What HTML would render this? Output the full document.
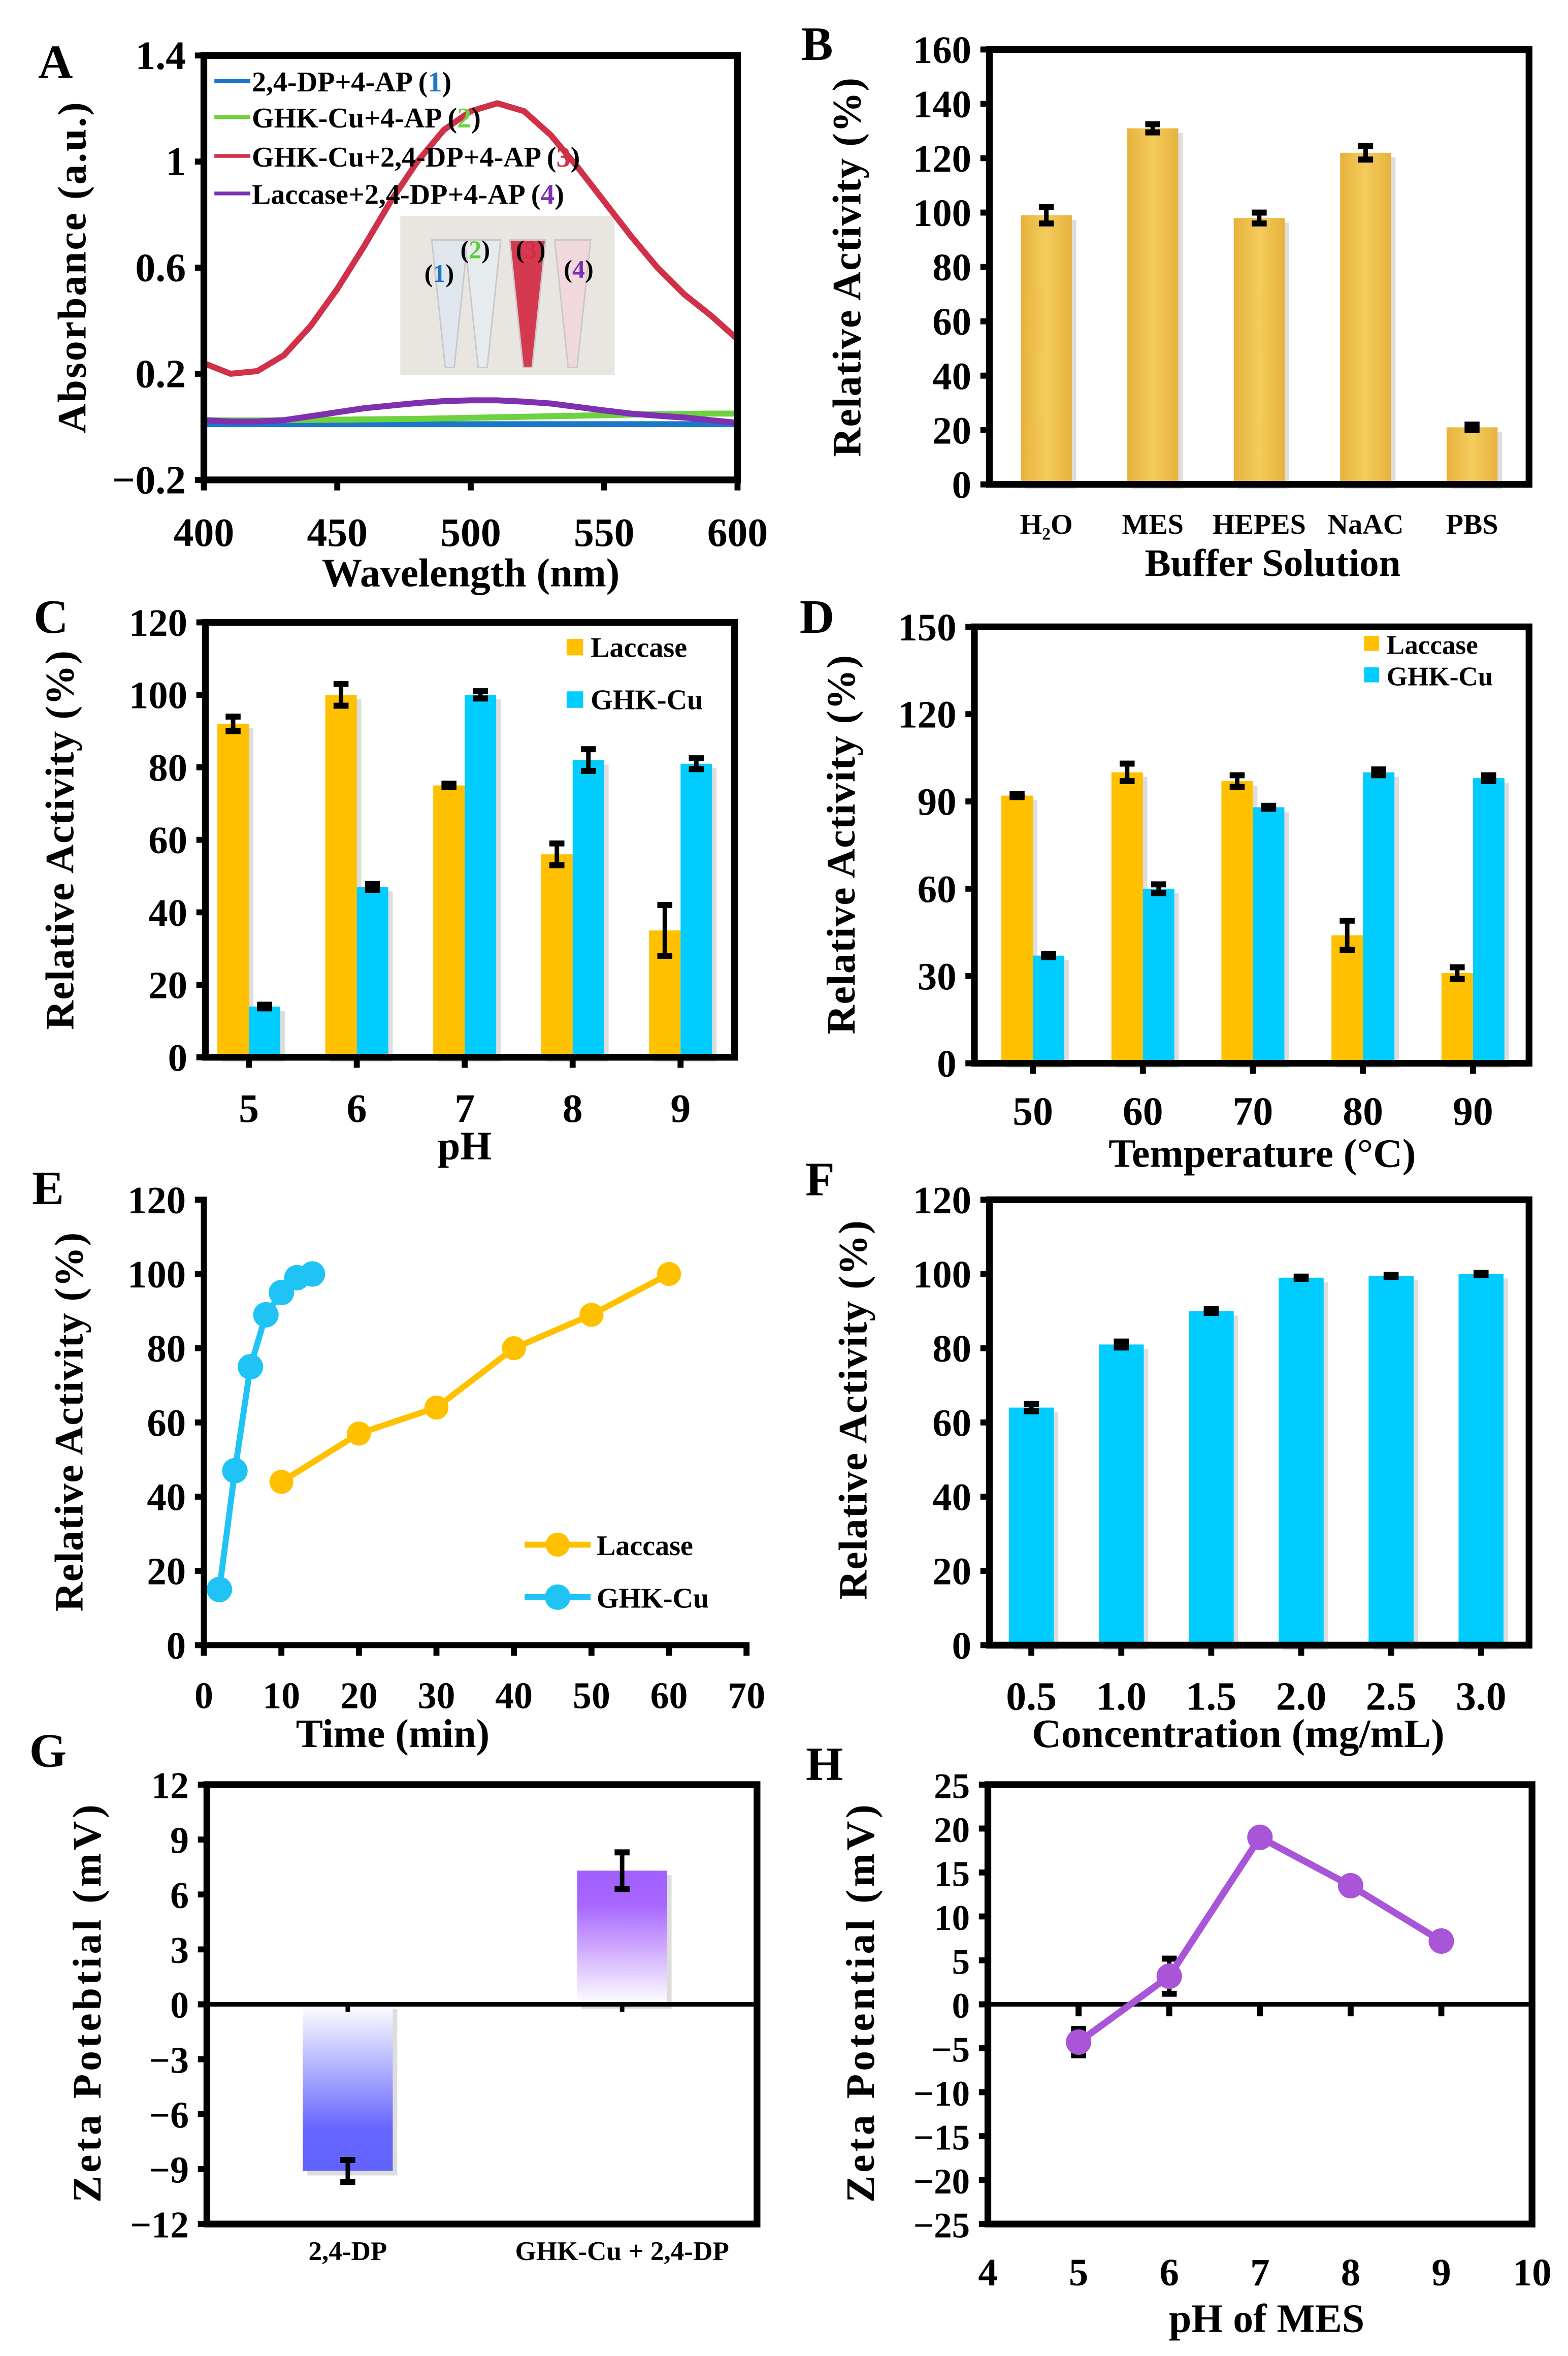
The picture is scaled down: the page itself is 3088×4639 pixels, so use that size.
<!DOCTYPE html>
<html><head><meta charset="utf-8"><style>
html,body{margin:0;padding:0;background:#fff;}
svg{display:block;}
text{font-family:"Liberation Serif",serif;font-weight:bold;fill:#000;}
</style></head><body>
<svg id="fig" xmlns="http://www.w3.org/2000/svg" width="3088" height="4639" viewBox="0 0 1046 1571" preserveAspectRatio="none">
<defs>
<linearGradient id="gold" x1="0" x2="1" y1="0" y2="0"><stop offset="0" stop-color="#E6B23C"/><stop offset="0.5" stop-color="#F4CB5C"/><stop offset="1" stop-color="#E6B23C"/></linearGradient>
<linearGradient id="blueg" x1="0" x2="0" y1="0" y2="1"><stop offset="0" stop-color="#FFFFFF"/><stop offset="0.75" stop-color="#6666FF"/><stop offset="1" stop-color="#6262FF"/></linearGradient>
<linearGradient id="purpg" x1="0" x2="0" y1="1" y2="0"><stop offset="0" stop-color="#FFFFFF"/><stop offset="0.75" stop-color="#A866FF"/><stop offset="1" stop-color="#A060FF"/></linearGradient>
</defs>
</svg>
<script>
// ---------- DATA ----------
const aWave = [400,410,420,430,440,450,460,470,480,490,500,510,520,530,540,550,560,570,580,590,600];
const aRed = [0.24,0.20,0.21,0.27,0.38,0.52,0.68,0.85,1.00,1.12,1.19,1.22,1.19,1.10,0.98,0.85,0.72,0.60,0.50,0.42,0.33];
const aPurple = [0.025,0.02,0.02,0.025,0.04,0.055,0.07,0.08,0.09,0.097,0.10,0.10,0.095,0.088,0.075,0.062,0.05,0.042,0.035,0.025,0.015];
const aGreen = [0.025,0.024,0.024,0.025,0.026,0.027,0.028,0.029,0.030,0.032,0.034,0.036,0.038,0.040,0.042,0.044,0.046,0.048,0.049,0.050,0.050];
const aBlue = [0.01,0.01,0.01,0.01,0.01,0.01,0.01,0.01,0.01,0.01,0.01,0.01,0.01,0.01,0.01,0.01,0.01,0.01,0.01,0.01,0.01];
const aYTicks = [1.4,1,0.6,0.2,-0.2];
const aYLabels = ["1.4","1","0.6","0.2","\u22120.2"];
const aXTicks = [400,450,500,550,600];

const bCats = ["H\u2082O","MES","HEPES","NaAC","PBS"];
const bVals = [99,131,98,122,21];
const bErr = [3,1.5,2,2.5,1];
const bYTicks = [0,20,40,60,80,100,120,140,160];

const cCats = ["5","6","7","8","9"];
const cLac = [92,100,75,56,35];
const cLacErr = [2,3,0.5,3,7];
const cGhk = [14,47,100,82,81];
const cGhkErr = [0.5,0.8,1,3,1.5];
const cYTicks = [0,20,40,60,80,100,120];

const dCats = ["50","60","70","80","90"];
const dLac = [92,100,97,44,31];
const dLacErr = [0.5,3,2,5,2];
const dGhk = [37,60,88,100,98];
const dGhkErr = [0.5,1.5,0.5,1,1];
const dYTicks = [0,30,60,90,120,150];

const eLacT = [10,20,30,40,50,60];
const eLacV = [44,57,64,80,89,100];
const eGhkT = [2,4,6,8,10,12,14];
const eGhkV = [15,47,75,89,95,99,100];
const eXTicks = [0,10,20,30,40,50,60,70];
const eYTicks = [0,20,40,60,80,100,120];

const fCats = ["0.5","1.0","1.5","2.0","2.5","3.0"];
const fVals = [64,81,90,99,99.5,100];
const fErr = [1,0.8,0.5,0.3,0.3,0.3];

const gCats = ["2,4-DP","GHK-Cu + 2,4-DP"];
const gVals = [-9.1,7.3];
const gErr = [0.6,1.0];
const gYTicks = [12,9,6,3,0,-3,-6,-9,-12];
const gYLabels = ["12","9","6","3","0","\u22123","\u22126","\u22129","\u221212"];

const hPH = [5,6,7,8,9];
const hVals = [-4.3,3.2,19,13.5,7.2];
const hErr = [1.5,2,0.3,0.3,0.3];
const hXTicks = [4,5,6,7,8,9,10];
const hYTicks = [25,20,15,10,5,0,-5,-10,-15,-20,-25];
const hYLabels = ["25","20","15","10","5","0","\u22125","\u221210","\u221215","\u221220","\u221225"];

// ---------- HELPERS ----------
const NS="http://www.w3.org/2000/svg";
const svg=document.getElementById('fig');
function mk(tag,attrs,name,parent){
  const e=document.createElementNS(NS,tag);
  for(const k in attrs) e.setAttribute(k,attrs[k]);
  
  
  (parent||svg).appendChild(e);
  return e;
}
function txt(x,y,s,size,anchor,name,extra){
  const a={x:x,y:y,'font-size':size,'text-anchor':anchor||'middle'};
  if(extra) for(const k in extra) a[k]=extra[k];
  const t=mk('text',a,name);
  t.textContent=s;
  return t;
}
function vtxt(x,y,s,size,name,ls){
  return txt(x,y,s,size,'middle',name,{transform:`rotate(-90 ${x} ${y})`,'letter-spacing':ls||0});
}
function box(x0,y0,x1,y1,name){
  mk('rect',{x:x0,y:y0,width:x1-x0,height:y1-y0,fill:'none',stroke:'#000','stroke-width':4.5},name);
}
function line(x1,y1,x2,y2,w,c,name){
  return mk('line',{x1:x1,y1:y1,x2:x2,y2:y2,stroke:c||'#000','stroke-width':w},name);
}
function yTicks(ticks,labels,ys,xAxis,name,size){
  ticks.forEach((v,i)=>{
    const y=ys(v);
    line(xAxis-6,y,xAxis,y,4,'#000',name+'-tick');
    txt(xAxis-12,y+9,labels?labels[i]:String(v),size||26,'end',name+'-label');
  });
}
function errbar(x,y1,y2,name){
  line(x,y1,x,y2,3,'#000',name);
  line(x-5,y1,x+5,y1,4,'#000',name+'-cap');
  line(x-5,y2,x+5,y2,4,'#000',name+'-cap');
}
function bar(x,w,y0,y,fill,name){
  mk('rect',{x:x+3,y:Math.min(y,y0)+3,width:w,height:Math.abs(y0-y),fill:'#bbb',opacity:0.5},name+'-shadow');
  return mk('rect',{x:x,y:Math.min(y,y0),width:w,height:Math.abs(y0-y),fill:fill},name);
}
function poly(xs,ys,color,w,name){
  const p=xs.map((x,i)=>x.toFixed(2)+','+ys[i].toFixed(2)).join(' ');
  return mk('polyline',{points:p,fill:'none',stroke:color,'stroke-width':w,'stroke-linejoin':'round','stroke-linecap':'round'},name);
}

// ---------- PANEL A ----------
(function(){
  const X0=136,X1=492,Y0=37,Y1=320;
  const xs=v=>X0+(v-400)/200*(X1-X0);
  const ys=v=>Y0+(1.4-v)/1.6*(Y1-Y0);
  txt(37,52,'A',32,'middle','panel-a-letter');
  // inset photo
  mk('rect',{x:267,y:144,width:143,height:106,fill:'#e9e6e2'},'inset-photo');
  const tubes=[[300,'#dfe6ee'],[322,'#e6ebee'],[352,'#d5394f'],[382,'#f0d8dc']];
  tubes.forEach((t,i)=>{
    mk('path',{d:`M${t[0]-12},160 L${t[0]+12},160 L${t[0]+3},245 L${t[0]-3},245 Z`,fill:t[1],stroke:'#c9c9cc','stroke-width':1},'inset-tube');
  });
  const tl=[[293,188,'(1)','#1a74c4'],[317,172,'(2)','#5ccd3a'],[354,172,'(3)','#d52a43'],[386,185,'(4)','#7b2fae']];
  tl.forEach(t=>{
    const e=txt(t[0],t[1],'',17,'middle','inset-tube-label',{'font-weight':'normal'});
    e.innerHTML=`(<tspan fill="${t[3]}">${t[2][1]}</tspan>)`;
  });
  poly(aWave.map(xs),aBlue.map(ys),'#1b78c8',4,'series-1-line');
  poly(aWave.map(xs),aGreen.map(ys),'#6dd23f',4,'series-2-line');
  poly(aWave.map(xs),aPurple.map(ys),'#7f30b0',4,'series-4-line');
  poly(aWave.map(xs),aRed.map(ys),'#d03048',4,'series-3-line');
  box(X0,Y0,X1,Y1,'panel-a-frame');
  yTicks(aYTicks,aYLabels,ys,X0,'panel-a-y-tick',27);
  aXTicks.forEach(v=>{line(xs(v),Y1,xs(v),Y1+7,4,'#000','panel-a-x-tick');txt(xs(v),364,String(v),27,'middle','panel-a-x-label');});
  txt(314,391,'Wavelength (nm)',27,'middle','panel-a-x-title');
  vtxt(57,178,'Absorbance (a.u.)',27,'panel-a-y-title',1);
  const leg=[['2,4-DP+4-AP','1','#1b78c8',54],['GHK-Cu+4-AP','2','#6dd23f',78],['GHK-Cu+2,4-DP+4-AP','3','#d03048',104],['Laccase+2,4-DP+4-AP','4','#7f30b0',129]];
  leg.forEach(l=>{
    line(143,l[3],167,l[3],2.5,l[2],'legend-swatch');
    const e=txt(168,l[3]+7,'',19,'start','legend-entry');
    e.innerHTML=`${l[0]} (<tspan fill="${l[2]}">${l[1]}</tspan>)`;
  });
})();

// ---------- PANEL B ----------
(function(){
  const X0=660,X1=1020,Y0=33,Y1=323;
  const ys=v=>Y1-v/160*(Y1-Y0);
  const xs=i=>698+i*71;
  txt(545,40,'B',32,'middle','panel-b-letter');
  bCats.forEach((c,i)=>{
    bar(xs(i)-17,34,Y1,ys(bVals[i]),'url(#gold)','bar-'+c);
    errbar(xs(i),ys(bVals[i]+bErr[i]),ys(bVals[i]-bErr[i]),'error-bar');
    txt(xs(i),356,c,19,'middle','panel-b-x-label');
  });
  box(X0,Y0,X1,Y1,'panel-b-frame');
  yTicks(bYTicks,null,ys,X0,'panel-b-y-tick',26);
  txt(849,384,'Buffer Solution',26,'middle','panel-b-x-title');
  vtxt(574,178,'Relative Activity (%)',27,'panel-b-y-title',0.5);
})();

// ---------- PANEL C ----------
(function(){
  const X0=137,X1=490,Y0=415,Y1=705;
  const ys=v=>Y1-v/120*(Y1-Y0);
  const xs=i=>166+i*72;
  txt(34,422,'C',32,'middle','panel-c-letter');
  cCats.forEach((c,i)=>{
    bar(xs(i)-21,21,Y1,ys(cLac[i]),'#FFC000','bar-laccase-ph'+c);
    bar(xs(i),21,Y1,ys(cGhk[i]),'#00CCFF','bar-ghk-ph'+c);
    errbar(xs(i)-10.5,ys(cLac[i]+cLacErr[i]),ys(cLac[i]-cLacErr[i]),'error-bar');
    errbar(xs(i)+10.5,ys(cGhk[i]+cGhkErr[i]),ys(cGhk[i]-cGhkErr[i]),'error-bar');
    line(xs(i),Y1,xs(i),Y1+7,4,'#000','panel-c-x-tick');
    txt(xs(i),748,c,27,'middle','panel-c-x-label');
  });
  box(X0,Y0,X1,Y1,'panel-c-frame');
  yTicks(cYTicks,null,ys,X0,'panel-c-y-tick',26);
  txt(310,773,'pH',27,'middle','panel-c-x-title');
  vtxt(49,560,'Relative Activity (%)',27,'panel-c-y-title',0.5);
  mk('rect',{x:378,y:426,width:11,height:11,fill:'#FFC000'},'legend-laccase-swatch');
  txt(394,438,'Laccase',19,'start','legend-laccase');
  mk('rect',{x:378,y:461,width:11,height:11,fill:'#00CCFF'},'legend-ghk-swatch');
  txt(394,473,'GHK-Cu',19,'start','legend-ghk');
})();

// ---------- PANEL D ----------
(function(){
  const X0=650,X1=1020,Y0=418,Y1=709;
  const ys=v=>Y1-v/150*(Y1-Y0);
  const xs=i=>689+i*73.4;
  txt(545,422,'D',32,'middle','panel-d-letter');
  dCats.forEach((c,i)=>{
    bar(xs(i)-21,21,Y1,ys(dLac[i]),'#FFC000','bar-laccase-t'+c);
    bar(xs(i),21,Y1,ys(dGhk[i]),'#00CCFF','bar-ghk-t'+c);
    errbar(xs(i)-10.5,ys(dLac[i]+dLacErr[i]),ys(dLac[i]-dLacErr[i]),'error-bar');
    errbar(xs(i)+10.5,ys(dGhk[i]+dGhkErr[i]),ys(dGhk[i]-dGhkErr[i]),'error-bar');
    line(xs(i),Y1,xs(i),Y1+7,4,'#000','panel-d-x-tick');
    txt(xs(i),750,c,27,'middle','panel-d-x-label');
  });
  box(X0,Y0,X1,Y1,'panel-d-frame');
  yTicks(dYTicks,null,ys,X0,'panel-d-y-tick',26);
  txt(842,778,'Temperature (\u00B0C)',27,'middle','panel-d-x-title');
  vtxt(570,563,'Relative Activity (%)',27,'panel-d-y-title',0.5);
  mk('rect',{x:910,y:424,width:10,height:10,fill:'#FFC000'},'legend-laccase-swatch');
  txt(925,436,'Laccase',18,'start','legend-laccase');
  mk('rect',{x:910,y:445,width:10,height:10,fill:'#00CCFF'},'legend-ghk-swatch');
  txt(925,457,'GHK-Cu',18,'start','legend-ghk');
})();

// ---------- PANEL E ----------
(function(){
  const X0=136,X1=498,Y0=800,Y1=1097;
  const xs=v=>X0+v/70*(X1-X0);
  const ys=v=>Y1-v/120*(Y1-Y0);
  txt(32,803,'E',32,'middle','panel-e-letter');
  line(X0,Y0-2,X0,Y1+2,4,'#000','panel-e-y-axis');
  line(X0-2,Y1,X1+2,Y1,4,'#000','panel-e-x-axis');
  yTicks(eYTicks,null,ys,X0,'panel-e-y-tick',26);
  eXTicks.forEach(v=>{line(xs(v),Y1,xs(v),Y1+7,4,'#000','panel-e-x-tick');txt(xs(v),1139,String(v),25,'middle','panel-e-x-label');});
  poly(eLacT.map(xs),eLacV.map(ys),'#FFC000',4,'laccase-line');
  eLacT.forEach((t,i)=>mk('circle',{cx:xs(t),cy:ys(eLacV[i]),r:8,fill:'#FFC000'},'laccase-point'));
  poly(eGhkT.map(xs),eGhkV.map(ys),'#20C4F4',4,'ghk-line');
  eGhkT.forEach((t,i)=>mk('circle',{cx:xs(t),cy:ys(eGhkV[i]),r:8.5,fill:'#20C4F4'},'ghk-point'));
  txt(262,1165,'Time (min)',27,'middle','panel-e-x-title');
  vtxt(55,948,'Relative Activity (%)',27,'panel-e-y-title',0.5);
  line(350,1030,394,1030,4,'#FFC000','legend-laccase-line');
  mk('circle',{cx:372,cy:1030,r:8,fill:'#FFC000'},'legend-laccase-marker');
  txt(398,1037,'Laccase',19,'start','legend-laccase');
  line(350,1065,394,1065,4,'#20C4F4','legend-ghk-line');
  mk('circle',{cx:372,cy:1065,r:8.5,fill:'#20C4F4'},'legend-ghk-marker');
  txt(398,1072,'GHK-Cu',19,'start','legend-ghk');
})();

// ---------- PANEL F ----------
(function(){
  const X0=660,X1=1020,Y0=800,Y1=1097;
  const ys=v=>Y1-v/120*(Y1-Y0);
  const xs=i=>688+i*60;
  txt(547,797,'F',32,'middle','panel-f-letter');
  fCats.forEach((c,i)=>{
    bar(xs(i)-15,30,Y1,ys(fVals[i]),'#00CCFF','bar-conc-'+c);
    errbar(xs(i),ys(fVals[i]+fErr[i]),ys(fVals[i]-fErr[i]),'error-bar');
    line(xs(i),Y1,xs(i),Y1+7,4,'#000','panel-f-x-tick');
    txt(xs(i),1140,c,27,'middle','panel-f-x-label');
  });
  box(X0,Y0,X1,Y1,'panel-f-frame');
  yTicks(eYTicks,null,ys,X0,'panel-f-y-tick',26);
  txt(826,1165,'Concentration (mg/mL)',27,'middle','panel-f-x-title');
  vtxt(578,940,'Relative Activity (%)',27,'panel-f-y-title',0.5);
})();

// ---------- PANEL G ----------
(function(){
  const X0=138,X1=505,Y0=1190,Y1=1483;
  const ys=v=>(Y0+Y1)/2-v/12*(Y1-Y0)/2;
  const xs=i=>232+i*183;
  txt(32,1178,'G',32,'middle','panel-g-letter');
  gCats.forEach((c,i)=>{
    bar(xs(i)-30,60,ys(0),ys(gVals[i]),gVals[i]<0?'url(#blueg)':'url(#purpg)','bar-'+c);
    errbar(xs(i),ys(gVals[i]+gErr[i]),ys(gVals[i]-gErr[i]),'error-bar');
    line(xs(i),ys(0),xs(i),ys(0)+5,3,'#000','panel-g-x-tick');
    txt(xs(i),1507,c,18,'middle','panel-g-x-label');
  });
  line(X0,ys(0),X1,ys(0),3,'#000','panel-g-zero-line');
  box(X0,Y0,X1,Y1,'panel-g-frame');
  yTicks(gYTicks,gYLabels,ys,X0,'panel-g-y-tick',25);
  vtxt(67,1335,'Zeta Potebtial (mV)',27,'panel-g-y-title',2);
})();

// ---------- PANEL H ----------
(function(){
  const X0=659,X1=1022,Y0=1190,Y1=1483;
  const ys=v=>(Y0+Y1)/2-v/25*(Y1-Y0)/2;
  const xs=v=>X0+(v-4)/6*(X1-X0);
  txt(550,1187,'H',32,'middle','panel-h-letter');
  line(X0,ys(0),X1,ys(0),3,'#000','panel-h-zero-line');
  box(X0,Y0,X1,Y1,'panel-h-frame');
  yTicks(hYTicks,hYLabels,ys,X0,'panel-h-y-tick',24);
  hPH.forEach(v=>line(xs(v),ys(0),xs(v),ys(0)+8,4,'#000','panel-h-x-tick'));
  hXTicks.forEach(v=>txt(xs(v),1524,String(v),26,'middle','panel-h-x-label'));
  hPH.forEach((p,i)=>errbar(xs(p),ys(hVals[i]+hErr[i]),ys(hVals[i]-hErr[i]),'error-bar'));
  poly(hPH.map(xs),hVals.map(ys),'#A855D8',4.5,'zeta-line');
  hPH.forEach((p,i)=>mk('circle',{cx:xs(p),cy:ys(hVals[i]),r:8.5,fill:'#A855D8'},'zeta-point'));
  txt(845,1555,'pH of MES',27,'middle','panel-h-x-title');
  vtxt(583,1335,'Zeta Potential (mV)',27,'panel-h-y-title',2);
})();
</script>
</body></html>
